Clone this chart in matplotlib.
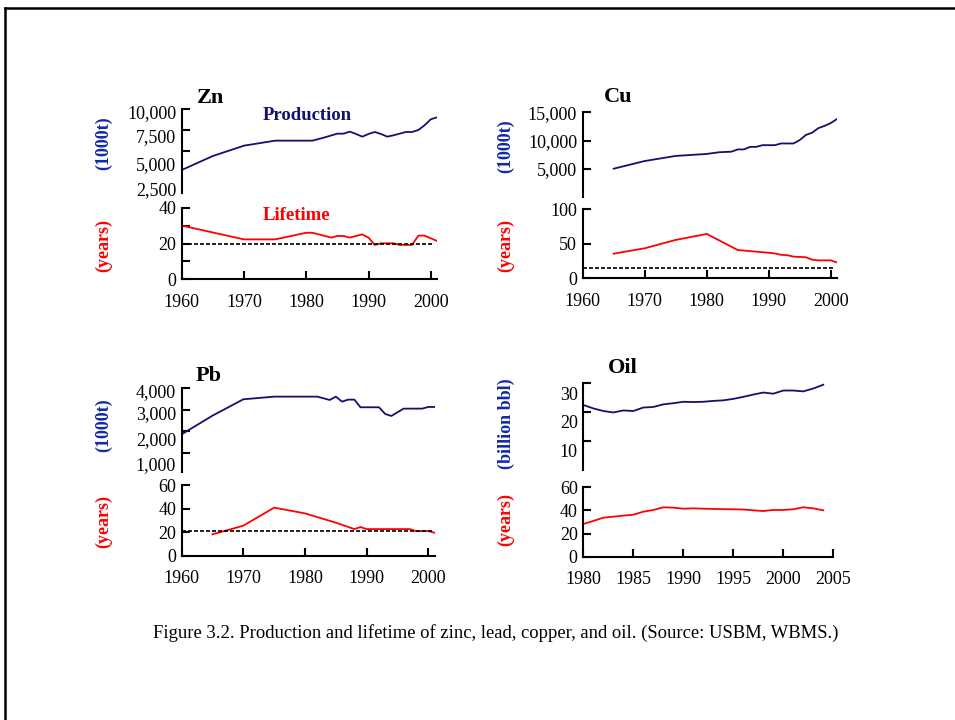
import matplotlib
matplotlib.use('Agg')
import matplotlib.pyplot as plt
from matplotlib.lines import Line2D

plt.rcParams['font.family'] = ['Liberation Serif', 'DejaVu Serif']

W, H = 955, 720
NAVY = '#12126e'
RED = '#ff0000'
LABEL_BLUE = '#1228a8'

# ---------------- data ----------------
# Zinc
zn_prod_years = [1960, 1965, 1970, 1975, 1980, 1981, 1983, 1985, 1986, 1987, 1988, 1989,
                 1990, 1991, 1992, 1993, 1994, 1995, 1996, 1997, 1998, 1999, 2000, 2001]
zn_prod = [2720, 4400, 5640, 6240, 6240, 6240, 6640, 7080, 7080, 7320, 7040, 6720,
           7040, 7280, 7040, 6720, 6880, 7080, 7280, 7280, 7520, 8080, 8800, 9040]
zn_life_years = [1960, 1970, 1975, 1980, 1981, 1984, 1985, 1986, 1987, 1989, 1990, 1991,
                 1992, 1994, 1995, 1997, 1998, 1999, 2001]
zn_life = [30, 22.3, 22.3, 26, 26, 23.3, 24.2, 24.2, 23.3, 25.1, 23.3, 19.2,
           20.1, 20.1, 19.2, 19.2, 24.4, 24.4, 21.4]
zn_ref = 20

# Copper
cu_prod_years = [1965, 1970, 1975, 1980, 1982, 1984, 1985, 1986, 1987, 1988, 1989, 1990,
                 1991, 1992, 1993, 1994, 1995, 1996, 1997, 1998, 1999, 2000, 2001]
cu_prod = [5050, 6400, 7300, 7650, 7950, 8050, 8450, 8450, 8900, 8900, 9200, 9200,
           9200, 9500, 9500, 9500, 10100, 11000, 11400, 12200, 12600, 13100, 13800]
cu_life_years = [1965, 1970, 1975, 1980, 1985, 1990, 1991, 1992, 1993, 1994, 1995, 1996,
                 1997, 1998, 2000, 2001]
cu_life = [35.7, 43.5, 55.6, 64.3, 41, 37, 36, 34, 33.5, 31.4, 31, 30.5,
           27, 26, 26, 23]
cu_ref = 15.5

# Lead
pb_prod_years = [1960, 1965, 1970, 1975, 1980, 1982, 1984, 1985, 1986, 1987, 1988, 1989,
                 1990, 1992, 1993, 1994, 1995, 1996, 1997, 1999, 2000, 2001]
pb_prod = [1866, 2732, 3490, 3613, 3613, 3613, 3459, 3613, 3381, 3474, 3474, 3119,
           3119, 3119, 2809, 2716, 2887, 3057, 3057, 3057, 3134, 3134]
pb_life_years = [1965, 1970, 1975, 1980, 1985, 1988, 1989, 1990, 1997, 1998, 2000, 2001]
pb_life = [18.1, 25.5, 40.8, 35.9, 28, 22.6, 24.3, 22.6, 22.6, 20.9, 20.9, 19.5]
pb_ref = 21.2

# Oil
oil_years = list(range(1980, 2005))
oil_prod = [22.5, 21.3, 20.4, 19.9, 20.6, 20.4, 21.6, 21.8, 22.7, 23.1, 23.6, 23.5, 23.6,
            23.9, 24.1, 24.6, 25.3, 26.1, 26.8, 26.4, 27.5, 27.5, 27.2, 28.2, 29.5]
oil_life = [28.3, 30.9, 33.7, 34.6, 35.5, 36.3, 38.9, 40.4, 42.7, 42.4, 41.5, 41.8, 41.5,
            41.3, 41.1, 41.0, 40.8, 40.1, 39.5, 40.4, 40.4, 41.0, 42.7, 41.8, 40.1]

# tick marks / tick labels (values, texts); label anchors where the original labels drift
zn_prod_marks = [5000, 7500, 10000]
zn_prod_label_pos = [9760, 6835, 3525, 528]
zn_prod_labels = ['10,000', '7,500', '5,000', '2,500']
zn_life_marks = [0, 10, 20, 30, 40]
zn_life_ticks = [0, 20, 40]

cu_prod_ticks = [5000, 10000, 15000]
cu_prod_labels = ['5,000', '10,000', '15,000']
cu_life_ticks = [0, 50, 100]

pb_prod_marks = [1000, 2000, 3000, 4000]
pb_prod_label_pos = [3876, 2856, 1650, 490]
pb_prod_labels = ['4,000', '3,000', '2,000', '1,000']
pb_life_ticks = [0, 20, 40, 60]

oil_prod_marks = [10, 20, 30]
oil_prod_label_pos = [26.3, 16.8, 6.65]
oil_prod_labels = ['30', '20', '10']
oil_life_ticks = [0, 20, 40, 60]

metal_xticks = [1960, 1970, 1980, 1990, 2000]
oil_xticks = [1980, 1985, 1990, 1995, 2000, 2005]

# ---------------- figure ----------------
fig = plt.figure(figsize=(W / 100, H / 100), dpi=100)

# page border (top and left)
fig.add_artist(Line2D([5 / W, 1], [1 - 8 / H, 1 - 8 / H], color='black', lw=1.8,
                      transform=fig.transFigure))
fig.add_artist(Line2D([5 / W, 5 / W], [1 - 8 / H, 0], color='black', lw=1.8,
                      transform=fig.transFigure))

SP_LW = 1.5
TICK_LEN = 5.8
FS = 13
YL_FS = 13


def add_ax(x0, x1, ytop, ybot):
    return fig.add_axes([x0 / W, 1 - ybot / H, (x1 - x0) / W, (ybot - ytop) / H])


def style(ax, bottom):
    for s in ['top', 'right']:
        ax.spines[s].set_visible(False)
    ax.spines['left'].set_linewidth(SP_LW)
    if bottom:
        ax.spines['bottom'].set_linewidth(SP_LW)
        ax.tick_params(axis='x', direction='in', length=TICK_LEN, width=SP_LW,
                       labelsize=FS, pad=10.5)
    else:
        ax.spines['bottom'].set_visible(False)
        ax.set_xticks([])
    ax.tick_params(axis='y', direction='in', length=TICK_LEN, width=SP_LW,
                   labelsize=FS, pad=4)
    ax.tick_params(axis='y', which='minor', direction='in', length=TICK_LEN, width=SP_LW)
    ax.patch.set_alpha(0)


def drift_labels(ax, marks, pos, labels):
    ax.set_yticks(marks, minor=True)
    ax.set_yticks(pos)
    ax.set_yticklabels(labels)
    ax.tick_params(axis='y', which='major', length=0, pad=4)
    ax.yaxis.set_minor_formatter(plt.NullFormatter())


LW = 1.3
DASH = (0, (2.4, 1.2))


def ylab(x, y, text, color):
    fig.text(x / W, 1 - y / H, text, fontsize=YL_FS, fontweight='bold', color=color,
             rotation=90, ha='center', va='center')


def title(x, y, text):
    fig.text(x / W, 1 - y / H, text, fontsize=16, fontweight='bold', ha='center', va='center')


# ---- Zn ----
ax = add_ax(181.7, 437, 109.3, 192.7)
style(ax, False)
ax.plot(zn_prod_years, zn_prod, color=NAVY, lw=LW)
ax.set_xlim(1960, 2001)
ax.set_ylim(0, 10000)
drift_labels(ax, zn_prod_marks, zn_prod_label_pos, zn_prod_labels)

ax = add_ax(181.7, 437, 207.7, 279.3)
style(ax, True)
ax.plot(zn_life_years, zn_life, color=RED, lw=LW)
ax.axhline(zn_ref, color='black', lw=1.2, ls=DASH, xmax=0.99)
ax.set_xlim(1960, 2001)
ax.set_ylim(0, 40)
ax.set_yticks(zn_life_marks, minor=True)
ax.set_yticks(zn_life_ticks)
ax.set_xticks(metal_xticks)

title(210, 98, 'Zn')
fig.text(307 / W, 1 - 115 / H, 'Production', fontsize=13.5, fontweight='bold', color=NAVY,
         ha='center', va='center')
fig.text(297 / W, 1 - 215 / H, 'Lifetime', fontsize=13.5, fontweight='bold', color=RED,
         ha='center', va='center')
ylab(104, 143, '(1000t)', LABEL_BLUE)
ylab(104, 245, '(years)', RED)

# ---- Cu ----
ax = add_ax(582.7, 836.9, 112.3, 197.3)
style(ax, False)
ax.plot(cu_prod_years, cu_prod, color=NAVY, lw=LW)
ax.set_xlim(1960, 2001)
ax.set_ylim(0, 15000)
ax.set_yticks(cu_prod_ticks)
ax.set_yticklabels(cu_prod_labels)

ax = add_ax(582.7, 836.9, 209.3, 278.3)
style(ax, True)
ax.plot(cu_life_years, cu_life, color=RED, lw=LW)
ax.axhline(cu_ref, color='black', lw=1.2, ls=DASH, xmax=0.99)
ax.set_xlim(1960, 2001)
ax.set_ylim(0, 100)
ax.set_yticks(cu_life_ticks)
ax.set_xticks(metal_xticks)

title(618, 97, 'Cu')
ylab(506, 146, '(1000t)', LABEL_BLUE)
ylab(506, 245, '(years)', RED)

# ---- Pb ----
ax = add_ax(181.7, 434.5, 388.3, 471.7)
style(ax, False)
ax.plot(pb_prod_years, pb_prod, color=NAVY, lw=LW)
ax.set_xlim(1960, 2001)
ax.set_ylim(130, 4000)
drift_labels(ax, pb_prod_marks, pb_prod_label_pos, pb_prod_labels)

ax = add_ax(181.7, 434.5, 485, 555.7)
style(ax, True)
ax.plot(pb_life_years, pb_life, color=RED, lw=LW)
ax.axhline(pb_ref, color='black', lw=1.2, ls=DASH, xmax=0.99)
ax.set_xlim(1960, 2001)
ax.set_ylim(0, 60)
ax.set_yticks(pb_life_ticks)
ax.set_xticks(metal_xticks)

title(209, 376, 'Pb')
ylab(104, 425, '(1000t)', LABEL_BLUE)
ylab(104, 522, '(years)', RED)

# ---- Oil ----
ax = add_ax(583.3, 833.3, 383.3, 469.9)
style(ax, False)
ax.plot(oil_years, oil_prod, color=NAVY, lw=LW)
ax.set_xlim(1980, 2005)
ax.set_ylim(0, 30)
drift_labels(ax, oil_prod_marks, oil_prod_label_pos, oil_prod_labels)

ax = add_ax(583.3, 833.3, 487.3, 556.7)
style(ax, True)
ax.plot(oil_years, oil_life, color=RED, lw=LW)
ax.set_xlim(1980, 2005)
ax.set_ylim(0, 60)
ax.set_yticks(oil_life_ticks)
ax.set_xticks(oil_xticks)

title(623, 368, 'Oil')
ylab(506, 424, '(billion bbl)', LABEL_BLUE)
ylab(506, 520, '(years)', RED)

# caption
fig.text(496 / W, 1 - 633 / H,
         'Figure 3.2. Production and lifetime of zinc, lead, copper, and oil. (Source: USBM, WBMS.)',
         fontsize=13.4, ha='center', va='center')

fig.savefig('out.png', dpi=100)
